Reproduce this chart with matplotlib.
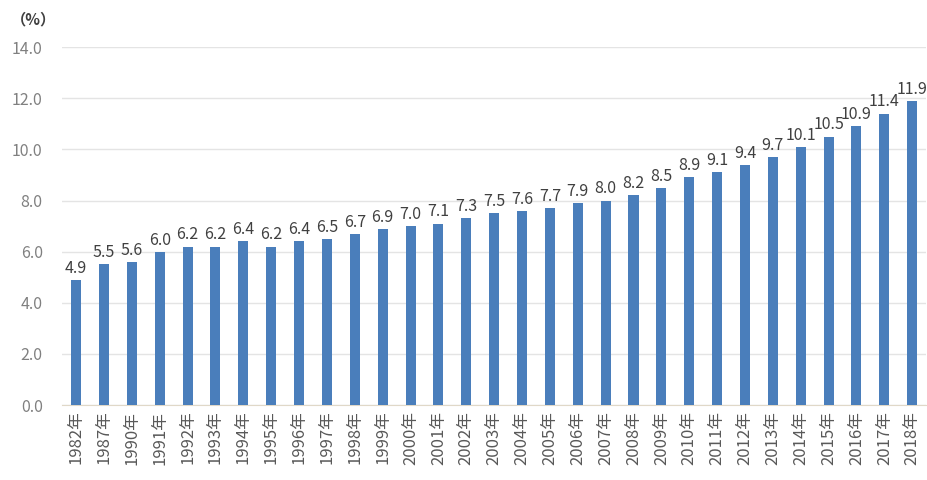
import matplotlib.pyplot as plt
import numpy as np

plt.rcParams['font.family'] = ['Noto Sans CJK SC', 'DejaVu Sans']

years = [1982, 1987] + list(range(1990, 2019))
values = [4.9, 5.5, 5.6, 6.0, 6.2, 6.2, 6.4, 6.2, 6.4, 6.5, 6.7, 6.9, 7.0,
          7.1, 7.3, 7.5, 7.6, 7.7, 7.9, 8.0, 8.2, 8.5, 8.9, 9.1, 9.4, 9.7,
          10.1, 10.5, 10.9, 11.4, 11.9]
labels = [f"{y}年" for y in years]
yticks = np.arange(0, 14.1, 2.0)

fig = plt.figure(figsize=(9.28, 4.8), dpi=100)
ax = fig.add_axes([0.067, 0.156, 0.931, 0.746])

x = np.arange(len(values))
ax.bar(x, values, width=0.36, color='#4a7ebb', zorder=3)

for xi, v in zip(x, values):
    ax.text(xi, v + 0.12, f"{v:.1f}", ha='center', va='bottom',
            fontsize=11.5, color='#404040')

ax.set_xlim(-0.5, len(values) - 0.5)
ax.set_ylim(0, 14)
ax.set_yticks(yticks)
ax.set_yticklabels([f"{t:.1f}" for t in yticks], fontsize=11.5, color='#808080')
ax.set_xticks(x)
ax.set_xticklabels(labels, rotation=90, fontsize=12, color='#595959')
ax.tick_params(axis='y', length=0, pad=14)
ax.tick_params(axis='x', length=0, pad=4)
ax.grid(axis='y', color='#e4e4e4', lw=1, zorder=0)
for s in ['top', 'right', 'left']:
    ax.spines[s].set_visible(False)
ax.spines['bottom'].set_color('#e0d8c8')

fig.text(0.012, 0.96, "（%）", fontsize=11, color='#404040', ha='left',
         va='center', fontweight='bold')

fig.savefig('out.png', dpi=100)
